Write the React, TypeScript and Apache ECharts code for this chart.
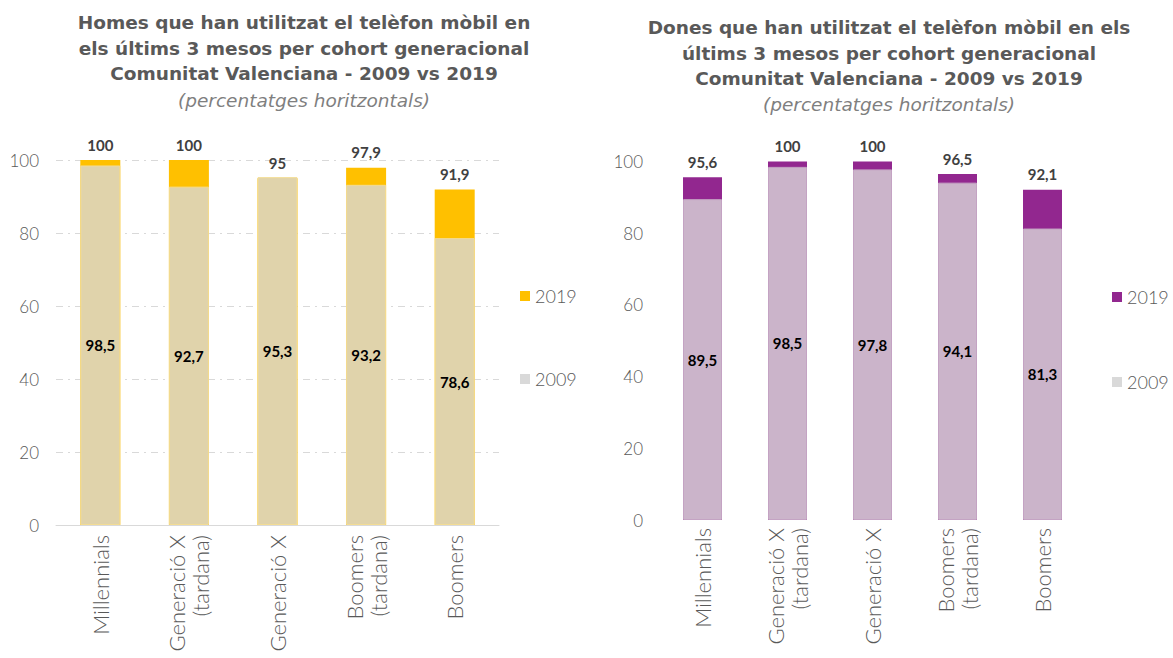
import React, { useEffect, useRef } from "react";
import * as echarts from "echarts";

const categories = ["Millennials", "Generació X\n(tardana)", "Generació X", "Boomers\n(tardana)", "Boomers"];
const homes2019 = [100, 100, 95, 97.9, 91.9];
const homes2009 = [98.5, 92.7, 95.3, 93.2, 78.6];
const dones2019 = [95.6, 100, 100, 96.5, 92.1];
const dones2009 = [89.5, 98.5, 97.8, 94.1, 81.3];
const yTicks = { min: 0, max: 100, interval: 20 };

const titleHomes = "Homes que han utilitzat el telèfon mòbil en\nels últims 3 mesos per cohort generacional\nComunitat Valenciana - 2009 vs 2019";
const titleDones = "Dones que han utilitzat el telèfon mòbil en els\núltims 3 mesos per cohort generacional\nComunitat Valenciana - 2009 vs 2019";
const subtitle = "(percentatges horitzontals)";

const FONT = "Lato, 'Open Sans', sans-serif";
const TITLE_FONT = "'DejaVu Sans', sans-serif";
const fmt = (v: number) => String(v).replace(".", ",");

export default function App() {
  const ref = useRef<HTMLDivElement>(null);
  useEffect(() => {
    if (!ref.current) return;
    const chart = echarts.init(ref.current, undefined, { renderer: "svg" });
    const titleStyle = { fontSize: 18.5, fontWeight: "bold" as const, color: "#595959", lineHeight: 25.5, fontFamily: TITLE_FONT };
    const subStyle = { fontSize: 18.5, fontStyle: "italic" as const, fontWeight: 200 as any, color: "#7f7f7f", lineHeight: 20, fontFamily: TITLE_FONT };
    const xAxisCommon = (gridIndex: number, showLine: boolean, margin: number) => ({
      type: "category" as const,
      gridIndex,
      data: categories,
      axisTick: { show: false },
      axisLine: { show: showLine, lineStyle: { color: "#d9d9d9", width: 1 } },
      axisLabel: { rotate: 90, margin, fontSize: 22, fontWeight: 300 as any, color: "#595959", fontFamily: FONT, lineHeight: 24, interval: 0 },
    });
    const yAxisCommon = (gridIndex: number, showSplit: boolean, margin: number) => ({
      type: "value" as const,
      gridIndex,
      min: yTicks.min,
      max: yTicks.max,
      interval: yTicks.interval,
      axisLine: { show: false },
      axisTick: { show: false },
      axisLabel: { fontSize: 17, fontWeight: 300 as any, color: "#595959", fontFamily: FONT, margin },
      splitLine: { show: showSplit, lineStyle: { color: "#d9d9d9", type: [7, 5, 2, 5] as any } },
    });
    const topLabel = { show: true, position: "top" as const, distance: 8, fontSize: 15, fontWeight: "bold" as const, color: "#404040", fontFamily: FONT, formatter: (p: any) => fmt(p.value) };
    const inLabel = { show: true, position: "inside" as const, fontSize: 15, fontWeight: "bold" as const, color: "#000", fontFamily: FONT, formatter: (p: any) => fmt(p.value) };
    const legendText = { fontSize: 18, fontWeight: 300 as any, color: "#595959", fontFamily: FONT };

    chart.setOption({
      animation: false,
      title: [
        { text: titleHomes, subtext: subtitle, left: 304, top: 10, textAlign: "center", padding: 0, itemGap: 4, textStyle: titleStyle, subtextStyle: subStyle },
        { text: titleDones, subtext: subtitle, left: 889, top: 15, textAlign: "center", padding: 0, itemGap: 3, textStyle: titleStyle, subtextStyle: subStyle },
      ],
      legend: [
        {
          orient: "vertical", left: 520, top: 287, itemGap: 65, itemWidth: 10, itemHeight: 10, icon: "rect", padding: 0,
          selectedMode: false,
          textStyle: legendText,
          data: [
            { name: "2019", itemStyle: { color: "#ffc000", borderWidth: 0 } },
            { name: "2009", itemStyle: { color: "#d9d9d9", borderWidth: 0 } },
          ],
        },
        {
          orient: "vertical", left: 1112, top: 288, itemGap: 67, itemWidth: 10, itemHeight: 10, icon: "rect", padding: 0,
          selectedMode: false,
          textStyle: legendText,
          data: [
            { name: "2019", itemStyle: { color: "#92278f", borderWidth: 0 } },
            { name: "2009", itemStyle: { color: "#d9d9d9", borderWidth: 0 } },
          ],
        },
      ],
      grid: [
        { left: 56, right: 674, top: 160, bottom: 133 },
        { left: 660, right: 88, top: 161.5, bottom: 138 },
      ],
      xAxis: [xAxisCommon(0, true, 10), xAxisCommon(1, false, 8)],
      yAxis: [yAxisCommon(0, true, 17), yAxisCommon(1, false, 17)],
      series: [
        { name: "2019", type: "bar", xAxisIndex: 0, yAxisIndex: 0, data: homes2019, barWidth: 40, barGap: "-100%", itemStyle: { color: "#ffc000" }, label: topLabel },
        { name: "2009", type: "bar", xAxisIndex: 0, yAxisIndex: 0, data: homes2009, barWidth: 40, barGap: "-100%", itemStyle: { color: "#e0d3ab", borderColor: "#f3dc94", borderWidth: 1 }, label: inLabel },
        { name: "2019", type: "bar", xAxisIndex: 1, yAxisIndex: 1, data: dones2019, barWidth: 39, barGap: "-100%", itemStyle: { color: "#92278f" }, label: topLabel },
        { name: "2009", type: "bar", xAxisIndex: 1, yAxisIndex: 1, data: dones2009, barWidth: 39, barGap: "-100%", itemStyle: { color: "#cbb4ca", borderColor: "#c4a3c3", borderWidth: 1 }, label: inLabel },
      ],
    });
    return () => chart.dispose();
  }, []);
  return <div ref={ref} style={{ position: "fixed", left: 0, top: 0, width: 1173, height: 658, background: "#fff" }} />;
}
